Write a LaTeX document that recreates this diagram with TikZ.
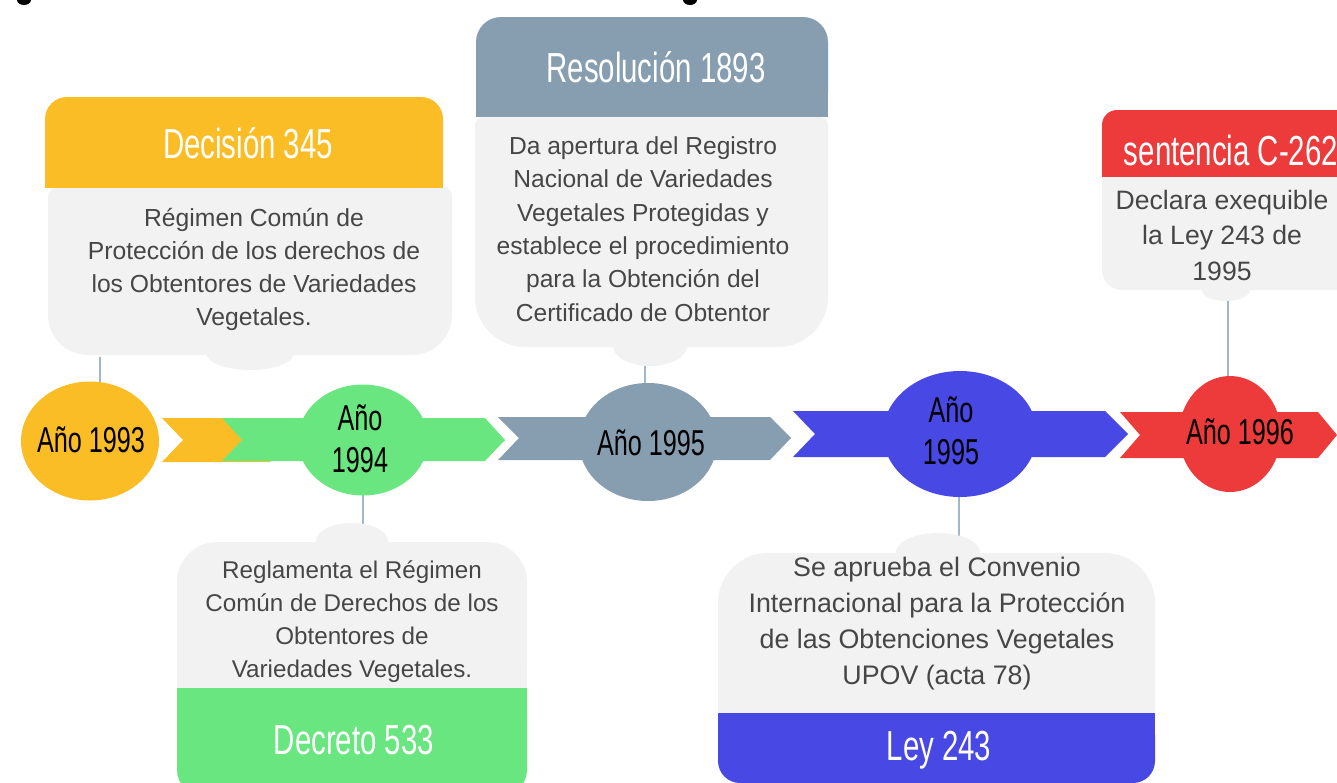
\documentclass[tikz,border=0pt]{standalone}
\usepackage{fontspec}
\setmainfont{Liberation Sans}
\newfontfamily\narrowfont[FakeStretch=0.7]{Liberation Sans}
\usetikzlibrary{shapes.geometric}
\definecolor{cyel}{RGB}{251,189,38}
\definecolor{cgrn}{RGB}{105,230,128}
\definecolor{cslate}{RGB}{135,158,177}
\definecolor{cblu}{RGB}{72,72,228}
\definecolor{cred}{RGB}{237,58,58}
\definecolor{cbox}{RGB}{242,242,242}
\definecolor{cline}{RGB}{160,184,204}
\definecolor{ctext}{RGB}{70,70,70}
\pgfdeclarelayer{bg}
\pgfsetlayers{bg,main}
\begin{document}
\begin{tikzpicture}[x=1pt,y=-1pt,
  conn/.style={draw=cline, line width=2.5pt},
  yearcirc/.style={ellipse, inner sep=0pt},
  yrtxt/.style={font=\narrowfont\fontsize{36}{42}\selectfont, text=black, align=center, inner sep=0pt},
  headtxt/.style={font=\narrowfont\fontsize{42}{48}\selectfont, text=white, inner sep=0pt},
  bodytxt/.style={text=ctext, align=center, inner sep=0pt}]
\useasboundingbox (0,0) rectangle (1337,782);
\clip (0,0) rectangle (1337,782);

% cut-off marks at the top edge
\fill[black] (24,0) ellipse (7pt and 5pt);
\fill[black] (690,0) ellipse (7pt and 5pt);

% ---- callout: Decision 345
\fill[cyel, rounded corners=22pt] (45,97) rectangle (443,188);
\fill[cyel] (45,150) rectangle (443,188);
\fill[cbox, rounded corners=40pt] (48,188) rectangle (452,355);
\fill[cbox, rounded corners=8pt] (48,188) rectangle (452,260);
\fill[cbox] (250,353) ellipse (44pt and 17pt);

% ---- callout: Resolucion 1893
\fill[cslate, rounded corners=25pt] (476,17) rectangle (828,117);
\fill[cslate] (476,70) rectangle (828,117);
\fill[cbox, rounded corners=50pt] (475,117) rectangle (828,347);
\fill[cbox, rounded corners=8pt] (475,117) rectangle (828,200);
\fill[cbox] (650,346) ellipse (37pt and 20pt);

% ---- callout: sentencia C-262
\fill[cred, rounded corners=15pt] (1102,110) rectangle (1380,177);
\fill[cred] (1102,150) rectangle (1380,177);
\fill[cbox, rounded corners=20pt] (1102,177) rectangle (1380,290);
\fill[cbox] (1102,177) rectangle (1380,230);
\fill[cbox] (1226,290) ellipse (24pt and 11pt);

% ---- callout: Decreto 533
\fill[cbox, rounded corners=40pt] (177,542) rectangle (527,700);
\fill[cbox] (177,600) rectangle (527,700);
\fill[cbox] (352,541) ellipse (36pt and 18pt);
\fill[cgrn, rounded corners=25pt] (177,688) rectangle (527,795);
\fill[cgrn] (177,688) rectangle (527,740);

% ---- callout: Ley 243
\fill[cbox, rounded corners=50pt] (718,553) rectangle (1155,720);
\fill[cbox] (718,620) rectangle (1155,720);
\fill[cbox] (938,552) ellipse (42pt and 19pt);
\fill[cblu, rounded corners=22pt] (718,713) rectangle (1155,783);
\fill[cblu] (718,713) rectangle (1155,750);

% ---- timeline chevrons
\fill[cyel] (162,418) -- (270,418) -- (290,440) -- (270,462) -- (162,462) -- (183,440) -- cycle;
\fill[cgrn] (222,418) -- (485,418) -- (505,440) -- (485,461) -- (222,461) -- (242,440) -- cycle;
\fill[cslate] (498,417) -- (770,417) -- (791,438) -- (770,460) -- (498,460) -- (519,438) -- cycle;
\fill[cblu] (793,411) -- (1105,411) -- (1128,434) -- (1105,457) -- (793,457) -- (815,434) -- cycle;
\fill[cred] (1120,412) -- (1318,412) -- (1337,435) -- (1318,458) -- (1120,458) -- (1140,435) -- cycle;

% ---- year circles
\node[yearcirc, fill=cyel, minimum width=138pt, minimum height=119pt] (y1) at (90,441) {};
\node[yearcirc, fill=cgrn, minimum width=130pt, minimum height=111pt] (y2) at (363,440) {};
\node[yearcirc, fill=cslate, minimum width=138pt, minimum height=118pt] (y3) at (648,442) {};
\node[yearcirc, fill=cblu, minimum width=154pt, minimum height=126pt] (y4) at (960,434) {};
\node[yearcirc, fill=cred, minimum width=102pt, minimum height=116pt] (y5) at (1230,434) {};

\node[yrtxt] (t1) at (91,440) {Año 1993};
\node[yrtxt] (t2) at (360,439) {Año\\1994};
\node[yrtxt] (t3) at (651,443) {Año 1995};
\node[yrtxt] (t4) at (951,431) {Año\\1995};
\node[yrtxt] (t5) at (1240,432) {Año 1996};

% ---- connector anchors
\coordinate (k1) at (100,357);
\coordinate (k2) at (363,526);
\coordinate (k3) at (645,364);
\coordinate (k4) at (959,536);
\coordinate (k5) at (1228,300);

\begin{pgfonlayer}{bg}
\draw[conn] (k1) -- (k1 |- y1.center);
\draw[conn] (k2) -- (k2 |- y2.center);
\draw[conn] (k3) -- (k3 |- y3.center);
\draw[conn] (k4) -- (k4 |- y4.center);
\draw[conn] (k5) -- (k5 |- y5.center);
\end{pgfonlayer}

% ---- headings
\node[headtxt] (h1) at (248,143) {Decisión 345};
\node[headtxt] (h2) at (656,67) {Resolución 1893};
\node[headtxt] (h3) at (1231,150) {sentencia C-262};
\node[headtxt] (h4) at (354,740) {Decreto 533};
\node[headtxt] (h5) at (939,750) {Ley 243};

% ---- body texts
\node[bodytxt, font=\fontsize{24.7}{33}\selectfont] (b1) at (254,269)
  {Régimen Común de\\Protección de los derechos de\\los Obtentores de Variedades\\Vegetales.};
\node[bodytxt, font=\fontsize{24.6}{33.4}\selectfont] (b2) at (643,229)
  {Da apertura del Registro\\Nacional de Variedades\\Vegetales Protegidas y\\establece el procedimiento\\para la Obtención del\\Certificado de Obtentor};
\node[bodytxt, font=\fontsize{26.6}{35.5}\selectfont] (b3) at (1222,235)
  {Declara exequible\\la Ley 243 de\\1995};
\node[bodytxt, font=\fontsize{24.2}{33}\selectfont] (b4) at (352,622)
  {Reglamenta el Régimen\\Común de Derechos de los\\Obtentores de\\Variedades Vegetales.};
\node[bodytxt, font=\fontsize{26.8}{36}\selectfont] (b5) at (937,624)
  {Se aprueba el Convenio\\Internacional para la Protección\\de las Obtenciones Vegetales\\UPOV (acta 78)};
\end{tikzpicture}
\end{document}
